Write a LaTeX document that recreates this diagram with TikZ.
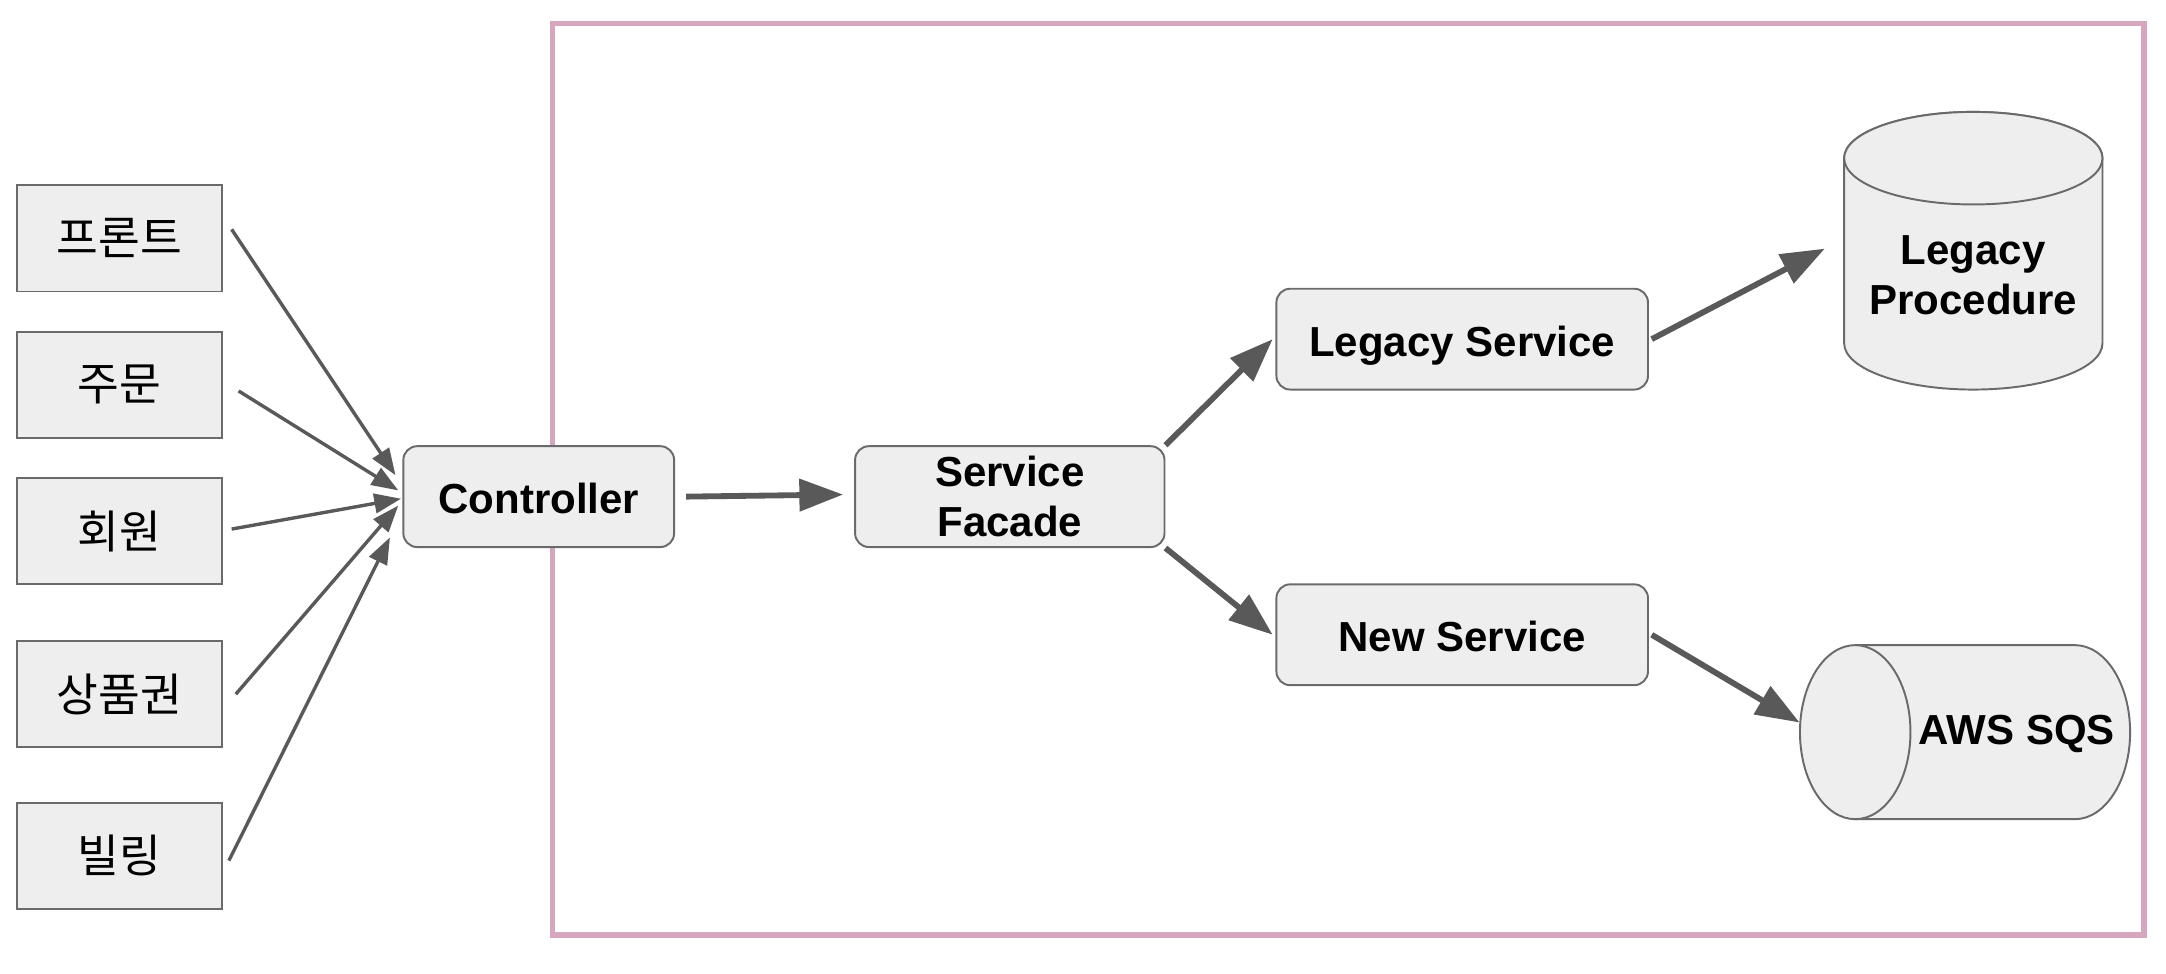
\documentclass[tikz,border=0pt]{standalone}
\usepackage{fontspec}
\setmainfont{Liberation Sans}
\newfontfamily\krfont{Noto Sans CJK KR}
\usetikzlibrary{shapes.geometric,arrows.meta,positioning}
\definecolor{boxgray}{HTML}{EEEEEE}
\definecolor{linegray}{HTML}{595959}
\definecolor{framepink}{HTML}{D5A6BD}
\tikzset{
    block filldraw/.style={% only the fill and draw styles
        fill=boxgray, draw=linegray!90, line width=0.8pt},
    block text/.style={% bold labels
        font=\fontsize{17.3}{20.5}\selectfont\bfseries, align=center},
    client/.style={% sharp boxes on the left
        block filldraw, rectangle, minimum width=2.98cm, minimum height=1.54cm,
        font=\fontsize{18.7}{22}\selectfont\krfont},
    block/.style={% rounded boxes
        block filldraw, block text, rectangle, rounded corners=0.2cm,
        minimum height=1.46cm, inner sep=0pt},
    one line/.style={% keeps single labels a bit low, as drawn
        text height=15pt, text depth=0.9pt},
    store/.style={% text on the cylinders
        block text, inner sep=0pt},
    call/.style={-{Triangle[length=11pt,width=8pt]}, draw=linegray, line width=1.4pt},
    flow/.style={-{Triangle[length=18pt,width=13pt]}, draw=linegray, line width=2.4pt}}

\begin{document}
\begin{tikzpicture}
\useasboundingbox (0,0) rectangle (31.36,-14.1);
\draw[framepink, line width=2.3pt] (8.0,-0.34) rectangle (31.04,-13.54);
% callers
\node[client] at (1.73,-3.45) (front) {프론트};
\node[client] at (1.73,-5.57) (order) {주문};
\node[client] at (1.73,-7.69) (member) {회원};
\node[client] at (1.73,-10.05) (voucher) {상품권};
\node[client] at (1.73,-12.39) (billing) {빌링};
% inside the frame
\node[block, one line, minimum width=3.92cm] at (7.8,-7.19) (ctrl) {Controller};
\node[block, minimum width=4.48cm] at (14.62,-7.19) (facade) {Service\\Facade};
\node[block, one line, minimum width=5.38cm] at (21.17,-4.91) (legacy) {Legacy Service};
\node[block, one line, minimum width=5.38cm] at (21.17,-9.19) (new) {New Service};
% cylinders
\filldraw[block filldraw] (26.70,-2.29) -- (26.70,-4.97)
    arc[start angle=180, end angle=360, x radius=1.87, y radius=0.67] -- (30.44,-2.29)
    arc[start angle=0, end angle=180, x radius=1.87, y radius=0.67] -- cycle;
\filldraw[block filldraw] (28.57,-2.29) ellipse[x radius=1.87, y radius=0.67];
\filldraw[block filldraw] (26.86,-9.34) -- (30.04,-9.34)
    arc[start angle=90, end angle=-90, x radius=0.8, y radius=1.26] -- (26.86,-11.86) -- cycle;
\filldraw[block filldraw] (26.86,-10.6) ellipse[x radius=0.8, y radius=1.26];
\node[store] at (28.57,-3.98) (proc) {Legacy\\Procedure};
\node[store] at (29.2,-10.62) (sqs) {AWS SQS};
% calls into the controller
\draw[call] ([xshift=0.12cm,yshift=0.13cm]front.east) -- ([xshift=-0.1cm,yshift=0.31cm]ctrl.west);
\draw[call] ([xshift=0.22cm,yshift=-0.09cm]order.east) -- ([xshift=-0.06cm,yshift=0.09cm]ctrl.west);
\draw[call] ([xshift=0.12cm,yshift=0.03cm]member.east) -- ([xshift=-0.02cm,yshift=-0.03cm]ctrl.west);
\draw[call] ([xshift=0.18cm]voucher.east) -- ([xshift=-0.06cm,yshift=-0.13cm]ctrl.west);
\draw[call] ([xshift=0.08cm,yshift=-0.07cm]billing.east) -- ([xshift=-0.18cm,yshift=-0.59cm]ctrl.west);
% main flow
\draw[flow] ([xshift=0.16cm]ctrl.east) -- ([xshift=-0.16cm,yshift=0.03cm]facade.west);
\draw[flow] (facade.north east) -- ([xshift=-0.04cm]legacy.west);
\draw[flow] (facade.south east) -- ([xshift=-0.04cm]new.west);
\draw[flow] ([xshift=0.04cm]legacy.east) -- ([xshift=-0.64cm,yshift=0.38cm]proc.west);
\draw[flow] ([xshift=0.04cm]new.east) -- ([xshift=-1.72cm,yshift=0.16cm]sqs.west);
\end{tikzpicture}
\end{document}
